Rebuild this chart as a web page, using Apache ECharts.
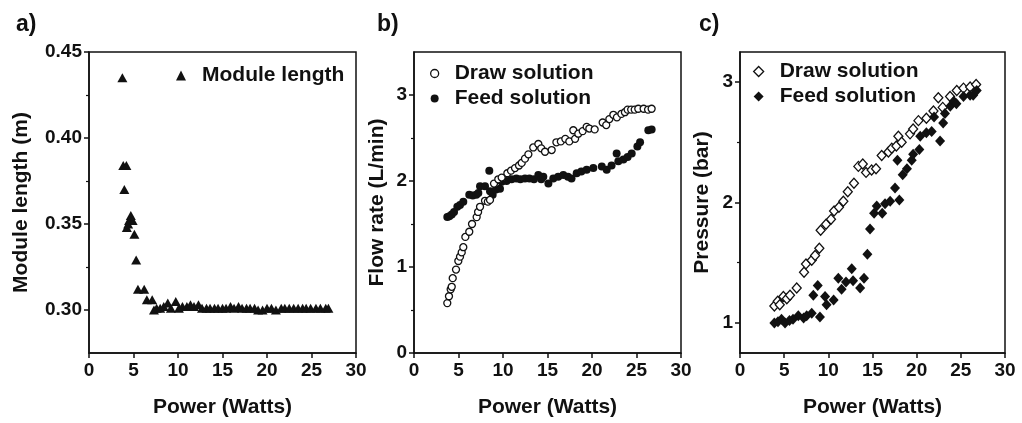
<!DOCTYPE html>
<html>
<head>
<meta charset="utf-8">
<script src="https://cdn.jsdelivr.net/npm/echarts@6/dist/echarts.min.js"></script>
<style>
html,body{margin:0;padding:0;background:#fff;}
#chart{width:1022px;height:423px;}
</style>
</head>
<body>
<div id="chart"></div>
<script>
// ---- Data ----
var panelLabels = ['a)', 'b)', 'c)'];
var xAxisName = 'Power (Watts)';
var yAxisNames = ['Module length (m)', 'Flow rate (L/min)', 'Pressure (bar)'];
var xTicks = [0, 5, 10, 15, 20, 25, 30];
var yLabelsA = [0.30, 0.35, 0.40, 0.45];
var yMinorA = [0.325, 0.375, 0.425];
var yLabelsB = [0, 1, 2, 3];
var yMinorB = [0.5, 1.5, 2.5];
var yLabelsC = [1, 2, 3];
var yMinorC = [1.5, 2.5];

var moduleLength = [
  [3.75,0.435],[3.85,0.384],[4.2,0.384],[3.97,0.370],[4.7,0.355],[4.5,0.352],[4.9,0.352],
  [4.25,0.348],[4.4,0.350],[5.1,0.344],[5.3,0.329],[5.5,0.312],[6.2,0.312],[6.5,0.306],
  [7.1,0.306],[7.3,0.300],[7.6,0.301],[8.0,0.301],[8.4,0.302],[8.85,0.304],[9.2,0.301],
  [9.75,0.305],[10.1,0.301],[10.5,0.302],[11.0,0.302],[11.4,0.303],[11.8,0.302],[12.3,0.303],
  [12.7,0.301],[13.2,0.301],[13.6,0.301],[14.1,0.301],[14.5,0.301],[15.0,0.301],[15.4,0.301],
  [15.9,0.302],[16.3,0.301],[16.8,0.302],[17.2,0.301],[17.7,0.301],[18.1,0.301],[18.6,0.301],
  [19.0,0.300],[19.5,0.300],[20.0,0.301],[20.5,0.301],[21.0,0.300],[21.6,0.301],[22.0,0.301],
  [22.5,0.301],[23.0,0.301],[23.5,0.301],[24.0,0.301],[24.4,0.301],[24.9,0.301],[25.5,0.301],
  [26.0,0.301],[26.6,0.301],[26.9,0.301]
];

var flowDraw = [
  [3.74,0.58],[3.93,0.66],[4.12,0.74],[4.24,0.77],[4.35,0.87],[4.72,0.97],[4.98,1.07],[5.17,1.12],
  [5.36,1.17],[5.54,1.23],[5.77,1.35],[6.21,1.41],[6.52,1.50],[7.04,1.58],[7.2,1.64],[7.42,1.70],
  [7.98,1.77],[8.3,1.76],[8.54,1.78],[8.99,1.97],[9.47,2.02],[9.85,2.04],[10.49,2.09],[10.9,2.12],
  [11.35,2.15],[11.8,2.18],[12.1,2.21],[12.47,2.26],[12.85,2.31],[13.4,2.39],[13.97,2.43],[14.3,2.38],
  [14.72,2.34],[15.47,2.36],[16.0,2.45],[16.5,2.46],[17.0,2.49],[17.45,2.46],[17.9,2.59],[18.1,2.49],
  [18.46,2.55],[18.95,2.58],[19.4,2.63],[19.7,2.61],[20.3,2.60],[21.2,2.68],[21.6,2.65],[21.95,2.72],
  [22.4,2.77],[22.8,2.74],[23.3,2.78],[23.7,2.80],[24.0,2.83],[24.4,2.83],[24.8,2.83],[25.2,2.84],
  [25.8,2.84],[26.3,2.83],[26.7,2.84]
];

var flowFeed = [
  [3.74,1.58],[3.97,1.59],[4.24,1.61],[4.5,1.64],[4.87,1.70],[5.17,1.72],[5.54,1.76],[6.21,1.84],
  [6.6,1.83],[7.0,1.84],[7.23,1.86],[7.42,1.94],[7.98,1.94],[8.46,2.12],[8.54,1.88],[8.84,1.84],
  [9.21,1.90],[9.66,1.91],[9.85,1.99],[10.4,2.00],[10.97,2.02],[11.5,2.03],[11.95,2.02],[12.47,2.03],
  [12.96,2.03],[13.48,2.02],[13.97,2.07],[14.3,2.02],[14.53,2.05],[15.1,1.97],[15.65,2.03],[16.2,2.05],
  [16.78,2.07],[17.3,2.05],[17.7,2.03],[18.28,2.09],[18.8,2.11],[19.4,2.13],[20.15,2.15],[21.1,2.17],
  [21.65,2.13],[22.2,2.18],[22.77,2.32],[22.96,2.23],[23.53,2.25],[24.0,2.28],[24.46,2.32],[25.1,2.40],
  [25.4,2.45],[26.33,2.59],[26.7,2.60]
];

var pressDraw = [
  [3.89,1.14],[4.27,1.18],[4.5,1.15],[4.91,1.22],[5.3,1.20],[5.66,1.23],[6.42,1.29],[7.25,1.42],
  [7.47,1.49],[8.12,1.52],[8.5,1.56],[8.98,1.62],[9.13,1.77],[9.74,1.82],[10.3,1.86],[10.65,1.93],
  [11.2,1.96],[11.7,2.01],[12.2,2.09],[12.9,2.16],[13.4,2.30],[13.9,2.32],[14.27,2.25],[14.9,2.27],
  [15.4,2.28],[16.04,2.39],[16.8,2.42],[17.18,2.45],[17.7,2.47],[17.93,2.55],[18.3,2.50],[19.25,2.57],
  [19.6,2.61],[20.2,2.68],[21.1,2.70],[21.9,2.76],[22.45,2.87],[22.95,2.79],[23.78,2.88],[24.54,2.93],
  [25.3,2.95],[26.05,2.96],[26.73,2.98]
];

var pressFeed = [
  [3.89,1.00],[4.3,1.01],[4.7,1.03],[5.1,1.00],[5.6,1.02],[6.0,1.03],[6.6,1.06],[7.2,1.04],
  [7.55,1.06],[8.12,1.08],[8.3,1.23],[8.8,1.31],[9.05,1.05],[9.63,1.22],[9.8,1.15],[10.6,1.19],
  [11.13,1.37],[11.5,1.28],[12.0,1.34],[12.65,1.45],[12.8,1.35],[13.6,1.29],[14.04,1.37],[14.42,1.57],
  [14.72,1.78],[15.18,1.91],[15.48,1.97],[16.1,1.91],[16.42,1.99],[17.0,2.01],[17.55,2.12],[18.04,2.02],
  [17.82,2.35],[18.42,2.23],[18.9,2.28],[19.44,2.35],[19.6,2.40],[20.3,2.44],[20.4,2.55],[21.1,2.58],
  [21.7,2.59],[21.97,2.71],[22.65,2.51],[23.0,2.66],[23.2,2.74],[23.8,2.80],[24.2,2.84],[24.5,2.82],
  [25.3,2.88],[26.05,2.89],[26.4,2.89],[26.8,2.93]
];

// ---- Chart ----
var FONT = 'Liberation Sans, Arial, sans-serif';
var INK = '#111';

var grids = [
  {left: 89, top: 52, width: 267, height: 305},
  {left: 414, top: 52, width: 267, height: 305},
  {left: 740, top: 52, width: 265, height: 305}
];
grids.forEach(function (g) {
  g.show = true; g.borderColor = INK; g.borderWidth = 1.5; g.containLabel = false;
});

var yRanges = [[0.275, 0.45], [0, 3.5], [0.75, 3.25]];
var yLabelSets = [yLabelsA, yLabelsB, yLabelsC];
var yMinorSets = [yMinorA, yMinorB, yMinorC];
var yDecimals = [2, 0, 0];
var yNameGaps = [57, 26, 27];

var xAxes = [], yAxes = [];
for (var i = 0; i < 3; i++) {
  xAxes.push({
    type: 'value', gridIndex: i, min: 0, max: 30, interval: 5,
    name: xAxisName, nameLocation: 'middle', nameGap: 44,
    nameTextStyle: {fontFamily: FONT, fontWeight: 'bold', fontSize: 21, color: INK},
    axisLine: {show: true, lineStyle: {color: INK, width: 1.5}},
    axisTick: {show: true, inside: false, length: 5, lineStyle: {color: INK, width: 1.5}, customValues: xTicks},
    axisLabel: {fontFamily: FONT, fontWeight: 'bold', fontSize: 19, color: INK, margin: 8, customValues: xTicks},
    splitLine: {show: false}
  });
  var labs = yLabelSets[i];
  var dec = yDecimals[i];
  yAxes.push({
    type: 'value', gridIndex: i, min: yRanges[i][0], max: yRanges[i][1],
    name: yAxisNames[i], nameLocation: 'middle', nameGap: yNameGaps[i], nameRotate: 90,
    nameTextStyle: {fontFamily: FONT, fontWeight: 'bold', fontSize: 21, color: INK},
    axisLine: {show: true, lineStyle: {color: INK, width: 1.5}},
    axisTick: {show: true, inside: false, length: 5, lineStyle: {color: INK, width: 1.5}, customValues: labs},
    axisLabel: {fontFamily: FONT, fontWeight: 'bold', fontSize: 19, color: INK, margin: 7, customValues: labs,
      formatter: (function (d) { return function (v) { return Number(v).toFixed(d); }; })(dec)},
    splitLine: {show: false}
  });
  // minor ticks
  yAxes.push({
    type: 'value', gridIndex: i, min: yRanges[i][0], max: yRanges[i][1], position: 'left',
    axisLine: {show: false},
    axisTick: {show: true, inside: false, length: 3, lineStyle: {color: INK, width: 1.2}, customValues: yMinorSets[i]},
    axisLabel: {show: false},
    splitLine: {show: false}
  });
}

var legendText = {fontFamily: FONT, fontWeight: 'bold', fontSize: 21, color: INK, lineHeight: 21, padding: [0, 0, 0, 11]};

var option = {
  backgroundColor: '#fff',
  animation: false,
  title: [
    {text: panelLabels[0], left: 11, top: 8, textStyle: {fontFamily: FONT, fontWeight: 'bold', fontSize: 23, color: INK}},
    {text: panelLabels[1], left: 372, top: 8, textStyle: {fontFamily: FONT, fontWeight: 'bold', fontSize: 23, color: INK}},
    {text: panelLabels[2], left: 694, top: 8, textStyle: {fontFamily: FONT, fontWeight: 'bold', fontSize: 23, color: INK}}
  ],
  grid: grids,
  xAxis: xAxes,
  yAxis: yAxes,
  legend: [
    {orient: 'vertical', left: 176, top: 65, itemWidth: 10, itemHeight: 10, itemGap: 5, padding: 0,
     textStyle: legendText, selectedMode: false,
     data: [{name: 'Module length', icon: 'triangle', itemStyle: {color: INK, opacity: 1}}]},
    {orient: 'vertical', left: 430, top: 63, itemWidth: 8, itemHeight: 8, itemGap: 4, padding: 0,
     textStyle: legendText, selectedMode: false,
     data: [{name: 'Draw solution', icon: 'circle', itemStyle: {color: '#fff', borderColor: INK, borderWidth: 1.3, opacity: 1}},
            {name: 'Feed solution', icon: 'circle', itemStyle: {color: INK, borderWidth: 0, opacity: 1}}]},
    {orient: 'vertical', left: 753, top: 61, itemWidth: 10, itemHeight: 10, itemGap: 4, padding: 0,
     textStyle: legendText, selectedMode: false,
     data: [{name: 'Draw solution', icon: 'diamond', itemStyle: {color: '#fff', borderColor: INK, borderWidth: 1.3, opacity: 1}},
            {name: 'Feed solution', icon: 'diamond', itemStyle: {color: INK, borderWidth: 0, opacity: 1}}]}
  ],
  series: [
    {name: 'Module length', type: 'scatter', xAxisIndex: 0, yAxisIndex: 0, data: moduleLength,
     symbol: 'triangle', symbolSize: [10, 9], itemStyle: {color: INK, opacity: 1}},
    {name: 'Feed solution', type: 'scatter', xAxisIndex: 1, yAxisIndex: 2, data: flowFeed,
     symbol: 'circle', symbolSize: 8, itemStyle: {color: INK, opacity: 1}},
    {name: 'Draw solution', type: 'scatter', xAxisIndex: 1, yAxisIndex: 2, data: flowDraw,
     symbol: 'circle', symbolSize: 7, itemStyle: {color: '#fff', borderColor: INK, borderWidth: 1.3, opacity: 1}},
    {name: 'Draw solution', type: 'scatter', xAxisIndex: 2, yAxisIndex: 4, data: pressDraw,
     symbol: 'diamond', symbolSize: [9, 10], itemStyle: {color: '#fff', borderColor: INK, borderWidth: 1.3, opacity: 1}},
    {name: 'Feed solution', type: 'scatter', xAxisIndex: 2, yAxisIndex: 4, data: pressFeed,
     symbol: 'diamond', symbolSize: [10, 11], itemStyle: {color: INK, opacity: 1}}
  ]
};

var chart = echarts.init(document.getElementById('chart'), null, {renderer: 'canvas'});
chart.setOption(option);
</script>
</body>
</html>
